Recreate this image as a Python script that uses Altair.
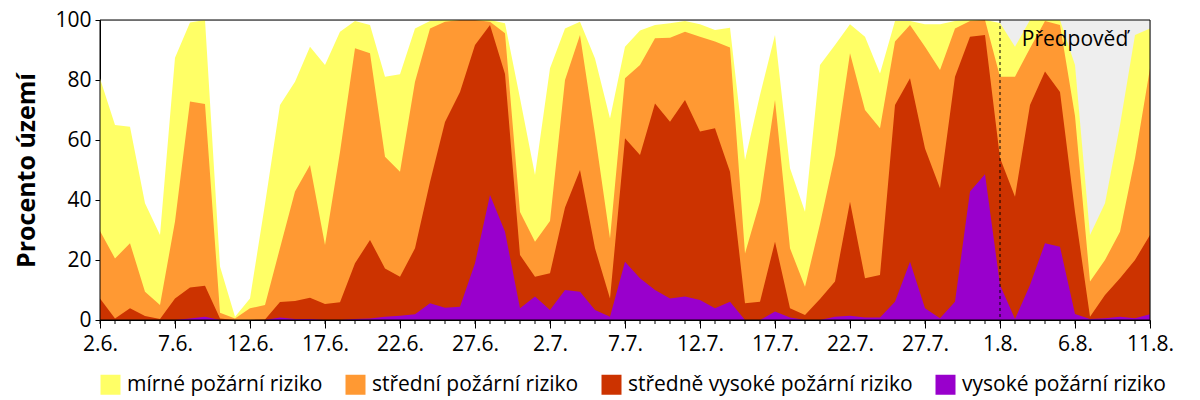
import altair as alt
import pandas as pd

# dates 2.6. - 11.8. (one point per day)
dny = pd.date_range('2024-06-02', '2024-08-11', freq='D')
popisky = [f'{d.day}.{d.month}.' for d in dny]

kategorie = ['mírné požární riziko', 'střední požární riziko',
             'středně vysoké požární riziko', 'vysoké požární riziko']
barvy = ['#FFFF66', '#FF9933', '#CC3300', '#9900CC']

# percentage of territory with at least the given risk level
mirne = [80.5, 65, 64.4, 38.9, 28.3, 87.4, 99.2, 100, 17.8, 1.1, 7.2, 38.7, 71.7, 79.4,
         91.1, 85, 96.1, 99.7, 98.3, 81.1, 81.9, 97.2, 99.7, 100, 100, 100, 100, 98.9,
         73.9, 48.3, 83.9, 97.2, 99.4, 87.2, 67.2, 91.1, 96.5, 98.3, 98.9, 99.7, 98.6,
         96.7, 97.4, 53.3, 75, 95, 50.6, 36.1, 85, 91.7, 98.6, 94.4, 82.2, 99.7, 99.7,
         98.6, 98.6, 99.7, 100, 100, 99, 91.1, 100, 100, 100, 85, 28.3, 38.9, 65, 95, 97.2]
stredni = [29.7, 20.5, 25.6, 9.4, 5, 32.8, 72.8, 72, 2.4, 0.5, 3.9, 5, 24, 42.8,
           51.7, 25, 56, 90.6, 88.9, 54.4, 49.4, 79.4, 97.2, 99.4, 100, 100, 99.4, 95.6,
           36, 26.1, 33, 80, 95, 62, 27.2, 80.6, 85, 93.9, 94.1, 96.1, 94.4,
           92.8, 90.8, 22.2, 39.4, 73.3, 23.9, 11.1, 32, 55, 88.9, 70, 63.9, 92.8, 98.3,
           91.1, 83.3, 97.2, 99.7, 100, 81.1, 81.1, 90.6, 99.7, 98.3, 68, 12.8, 20, 29.4, 53.9, 83.9]
stredne_vysoke = [7.2, 0.5, 3.9, 1.3, 0.3, 7.2, 10.8, 11.4, 0.5, 0, 0, 0.2, 6, 6.3,
                  7.4, 5.3, 5.9, 18.9, 26.7, 17.2, 14.4, 23.9, 46, 66, 76, 91.7, 98.3, 82,
                  21.7, 14.4, 15.6, 37.5, 50, 23.9, 7.2, 60.6, 55, 72.2, 66.1, 73.3, 62.8,
                  63.9, 49.4, 5.6, 6.1, 26.1, 3.9, 1.7, 7, 12.8, 39.4, 13.9, 15, 71.7, 80.6,
                  57.2, 43.9, 81.1, 94.4, 95, 54, 41.1, 71.7, 82.8, 76, 36, 1.1, 8.3, 13.9, 20, 28.3]
vysoke = [0, 0, 0, 0, 0, 0, 0.5, 1.1, 0, 0, 0, 0, 0.8, 0.3,
          0.3, 0, 0, 0.3, 0.5, 1.1, 1.4, 1.9, 5.6, 4.1, 4.4, 18.9, 41.7, 29.4,
          3.9, 7.8, 3.3, 10, 9.4, 3.3, 1.1, 19.4, 13.9, 10, 7.2, 7.8, 6.7,
          3.9, 6.1, 0, 0, 2.8, 0.8, 0, 0, 1.1, 1.4, 0.8, 0.8, 6.1, 19.4,
          3.9, 0.6, 6.1, 42.8, 48.6, 11.7, 0.3, 11.7, 25.6, 24.4, 2, 0.3, 0.6, 1.1, 0.6, 1.9]

predpoved_od = '1.8.'
predpoved_do = '11.8.'

font = 'Open Sans'
w = 1050
h = 300

hlavni = list(range(0, len(dny), 5))
labels_js = '[' + ','.join(f"'{p}'" for p in popisky) + ']'
x_scale = alt.Scale(domain=[0, len(dny) - 1], nice=False, zero=False)
x_axis = alt.Axis(values=hlavni, grid=False, tickSize=8,
                  labelExpr=f"{labels_js}[round(datum.value)]",
                  labelFontSize=21, labelPadding=5, labelColor='black', labelFlush=False,
                  tickColor='black', domainColor='black', labelOverlap=False, title=None)
y_scale = alt.Scale(domain=[0, 100], nice=False)
y_axis = alt.Axis(values=[0, 20, 40, 60, 80, 100], grid=False, tickSize=5,
                  labelFontSize=21, labelPadding=4, labelColor='black', tickColor='black',
                  domainColor='black',
                  title='Procento území', titleFontSize=25, titleFontWeight='bold',
                  titleColor='black', titlePadding=15)

barva = alt.Color('kategorie:N', scale=alt.Scale(domain=kategorie, range=barvy),
                  legend=alt.Legend(title=None, orient='none', direction='horizontal',
                                    legendX=0, legendY=354, symbolType='square',
                                    symbolSize=400, symbolStrokeWidth=0, symbolOpacity=1,
                                    labelFontSize=21, labelColor='black', labelOffset=6,
                                    columnPadding=22, labelLimit=400))

# forecast background
pred = pd.DataFrame({'od': [popisky.index(predpoved_od)], 'do': [popisky.index(predpoved_do)]})
pozadi = alt.Chart(pred).mark_rect(color='#EEEEEE').encode(
    x=alt.X('od:Q', scale=x_scale, axis=x_axis),
    x2='do:Q',
    y=alt.value(0), y2=alt.value(h))

vrstvy = []
for kat, hodnoty in zip(kategorie, [mirne, stredni, stredne_vysoke, vysoke]):
    df = pd.DataFrame({'den': range(len(dny)), 'datum': popisky, 'procento': hodnoty, 'kategorie': kat})
    vrstvy.append(alt.Chart(df).mark_area(opacity=1, interpolate='linear').encode(
        x=alt.X('den:Q', scale=x_scale, axis=x_axis),
        y=alt.Y('procento:Q', scale=y_scale, axis=y_axis, stack=None),
        color=barva))

# small daily ticks under the x axis
dny_df = pd.DataFrame({'den': range(len(dny)), 'datum': popisky})
male_ticky = alt.Chart(dny_df).mark_rule(color='black', strokeWidth=1).encode(
    x=alt.X('den:Q', scale=x_scale, axis=x_axis),
    y=alt.value(h), y2=alt.value(h + 4))

cara = alt.Chart(pred).mark_rule(color='black', strokeDash=[3, 3], strokeWidth=1).encode(
    x=alt.X('od:Q', scale=x_scale, axis=x_axis))

napis = alt.Chart(pred).mark_text(text='Předpověď', font=font, fontSize=21, color='black',
                                  baseline='middle', align='center').encode(
    x=alt.X('stred:Q', scale=x_scale, axis=x_axis), y=alt.value(20)).transform_calculate(
    stred='(datum.od + datum.do) / 2')

ramecek = alt.Chart(pred).mark_rect(fill=None, stroke='black', strokeWidth=1).encode(
    x=alt.value(0), x2=alt.value(w), y=alt.value(0), y2=alt.value(h))

chart = alt.layer(pozadi, *vrstvy, male_ticky, cara, napis, ramecek).properties(
    width=w, height=h,
    autosize=alt.AutoSizeParams(type='none'),
    padding={'left': 92, 'top': 12, 'right': 42, 'bottom': 80}
).configure_view(stroke=None).configure(font=font).configure_axis(
    labelFont=font, titleFont=font).configure_legend(labelFont=font)

chart.save('out.html', embed_options={'renderer': 'svg', 'actions': False})
